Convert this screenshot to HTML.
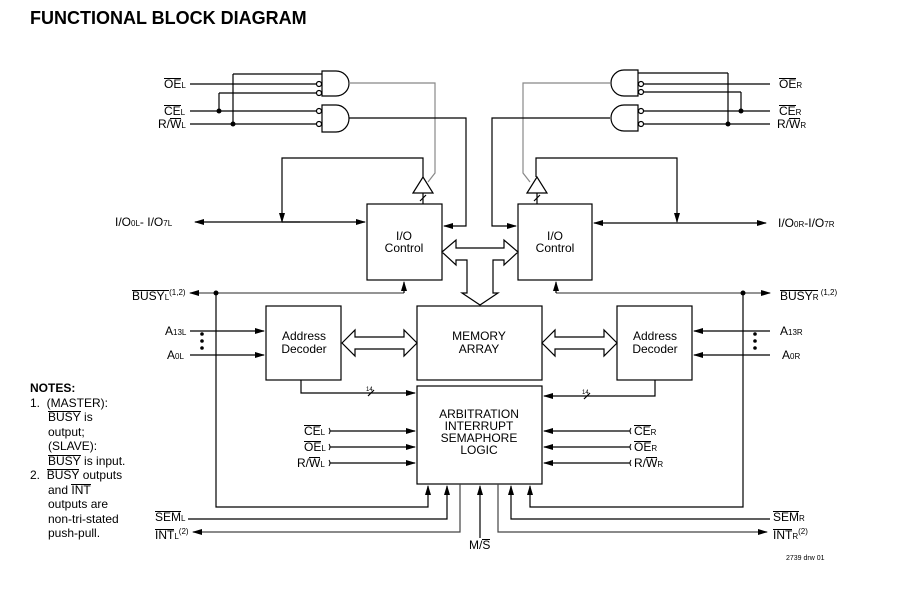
<!DOCTYPE html>
<html><head><meta charset="utf-8"><style>
body{margin:0;background:#fff;width:924px;height:592px;position:relative;overflow:hidden}
svg{display:block;position:absolute;left:0;top:0}
.t{position:absolute;font-family:"Liberation Sans",Arial,sans-serif;font-size:12px;line-height:12px;white-space:nowrap;color:#000}
.o{display:inline-block;border-top:1px solid #000;line-height:10px}
.s{font-size:8px}
.u{font-size:8px;vertical-align:5px}
.c{text-align:center;width:120px}
</style></head><body>
<svg width="924" height="592" viewBox="0 0 924 592" xmlns="http://www.w3.org/2000/svg">
<defs>
<marker id="a" markerWidth="10" markerHeight="6" refX="9" refY="3" orient="auto" markerUnits="userSpaceOnUse"><path d="M0,0 L10,3 L0,6 Z" fill="#000"/></marker>
</defs>
<g stroke="#000" stroke-width="1.2" fill="none">
<path d="M322,71 H336 A13,12.5 0 0 1 336,96 H322 Z"/>
<path d="M322,105 H336 A13,13.5 0 0 1 336,132 H322 Z"/>
<circle cx="319" cy="84" r="2.5"/><circle cx="319" cy="93" r="2.5"/>
<circle cx="319" cy="111" r="2.5"/><circle cx="319" cy="124" r="2.5"/>
<path d="M233,74 H322 M190,84 H316 M219,93 H316 M190,111 H316 M190,124 H316 M219,93 V111 M233,74 V124"/>
<path d="M349,83 H435 V173 L428,182" stroke="#888"/>
<path d="M349,118 H466 V226 H444" marker-end="url(#a)"/>
<path d="M413,193 L423,177 L433,193 Z"/>
<path d="M423,177 V158 H282 V222" marker-end="url(#a)"/>
<path d="M423,193 V204 M420,201 L426,195"/>
<path d="M638,70 H624 A13,13 0 0 0 624,96 H638 Z"/>
<path d="M638,105 H624 A13,13 0 0 0 624,131 H638 Z"/>
<circle cx="641" cy="84" r="2.5"/><circle cx="641" cy="92" r="2.5"/>
<circle cx="641" cy="111" r="2.5"/><circle cx="641" cy="124" r="2.5"/>
<path d="M638,73 H728 M644,84 H770 M644,92 H741 M644,111 H770 M644,124 H770 M741,92 V111 M728,73 V124"/>
<path d="M610,83 H523 V173 L530,182" stroke="#888"/>
<path d="M610,118 H492 V226 H516" marker-end="url(#a)"/>
<path d="M527,193 L537,177 L547,193 Z"/>
<path d="M536,177 V158 H677 V222" marker-end="url(#a)"/>
<path d="M537,193 V204 M534,201 L540,195"/>
<rect x="367" y="204" width="75" height="76"/>
<rect x="518" y="204" width="74" height="76"/>
<rect x="417" y="306" width="125" height="74"/>
<rect x="266" y="306" width="75" height="74"/>
<rect x="617" y="306" width="75" height="74"/>
<rect x="417" y="386" width="125" height="98"/>
<path d="M300,222 H195" marker-end="url(#a)"/>
<path d="M282,222 H365" marker-end="url(#a)"/>
<path d="M677,223 H594" marker-end="url(#a)"/>
<path d="M677,223 H766" marker-end="url(#a)"/>
<path d="M404,293 H190" marker-end="url(#a)" stroke="#555"/>
<path d="M404,293 V282" marker-end="url(#a)"/>
<path d="M556,293 H770" marker-end="url(#a)" stroke="#555"/>
<path d="M556,293 V282" marker-end="url(#a)"/>
<path d="M442,252 L456,240 V248 H504 V240 L518,252 L504,265 V260 H493 V293 H498 L480,305 L462,293 H467 V260 H456 V265 Z" fill="#fff"/>
<path d="M342,343 L355,330 V337 H404 V330 L417,343 L404,356 V349 H355 V356 Z" fill="#fff"/>
<path d="M542,343 L555,330 V337 H604 V330 L617,343 L604,356 V349 H555 V356 Z" fill="#fff"/>
<path d="M190,331 H264" marker-end="url(#a)"/>
<path d="M190,355 H264" marker-end="url(#a)"/>
<path d="M770,331 H694" marker-end="url(#a)"/>
<path d="M770,355 H694" marker-end="url(#a)"/>
<path d="M301,380 V393 H415" marker-end="url(#a)"/>
<path d="M368,396 L374,390"/>
<path d="M655,380 V396 H544" marker-end="url(#a)"/>
<path d="M584,399 L590,393"/>
<path d="M330,431 H415" marker-end="url(#a)"/>
<path d="M330,447 H415" marker-end="url(#a)"/>
<path d="M330,463 H415" marker-end="url(#a)"/>
<path d="M630,431 H544" marker-end="url(#a)"/>
<path d="M630,447 H544" marker-end="url(#a)"/>
<path d="M630,463 H544" marker-end="url(#a)"/>
<path d="M216,293 V507 H428 V486" marker-end="url(#a)"/>
<path d="M188,519 H447 V486" marker-end="url(#a)"/>
<path d="M460,484 V532 H193" marker-end="url(#a)" stroke="#444"/>
<path d="M480,538 V486" marker-end="url(#a)"/>
<path d="M498,484 V532 H767" marker-end="url(#a)" stroke="#444"/>
<path d="M770,519 H511 V486" marker-end="url(#a)"/>
<path d="M743,293 V507 H530 V486" marker-end="url(#a)"/>
<path d="M329,428 q2,3 0,6 M329,444 q2,3 0,6 M329,460 q2,3 0,6 M631,428 q-2,3 0,6 M631,444 q-2,3 0,6 M631,460 q-2,3 0,6" stroke-width="1"/>
</g>
<g fill="#000">
<circle cx="219" cy="111" r="2.5"/><circle cx="233" cy="124" r="2.5"/>
<circle cx="741" cy="111" r="2.5"/><circle cx="728" cy="124" r="2.5"/>
<circle cx="216" cy="293" r="2.5"/><circle cx="743" cy="293" r="2.5"/>
<circle cx="202" cy="334" r="1.8"/><circle cx="202" cy="341" r="1.8"/><circle cx="202" cy="348" r="1.8"/>
<circle cx="755" cy="334" r="1.8"/><circle cx="755" cy="341" r="1.8"/><circle cx="755" cy="348" r="1.8"/>
</g>
<text x="366" y="391" font-size="6" font-family="Liberation Sans">14</text>
<text x="582" y="394" font-size="6" font-family="Liberation Sans">14</text>
<text x="786" y="560" font-size="7" font-family="Liberation Sans">2739 drw 01</text>
</svg>
<div class="t" style="left:30px;top:8px;font-size:18px;line-height:20px;font-weight:bold">FUNCTIONAL BLOCK DIAGRAM</div>
<div class="t" style="left:164px;top:78px"><span class="o">OE</span><span class="s">L</span></div>
<div class="t" style="left:164px;top:105px"><span class="o">CE</span><span class="s">L</span></div>
<div class="t" style="left:158px;top:118px">R/<span class="o">W</span><span class="s">L</span></div>
<div class="t" style="left:779px;top:78px"><span class="o">OE</span><span class="s">R</span></div>
<div class="t" style="left:779px;top:105px"><span class="o">CE</span><span class="s">R</span></div>
<div class="t" style="left:777px;top:118px">R/<span class="o">W</span><span class="s">R</span></div>
<div class="t" style="left:115px;top:216px">I/O<span class="s">0L</span>- I/O<span class="s">7L</span></div>
<div class="t" style="left:778px;top:217px">I/O<span class="s">0R</span>-I/O<span class="s">7R</span></div>
<div class="t" style="left:132px;top:287px"><span class="o">BUSY<span class="s">L</span></span><span class="u">(1,2)</span></div>
<div class="t" style="left:780px;top:287px"><span class="o">BUSY<span class="s">R</span></span><span class="u"> (1,2)</span></div>
<div class="t c" style="left:344px;top:230px">I/O<br>Control</div>
<div class="t c" style="left:495px;top:230px">I/O<br>Control</div>
<div class="t c" style="left:419px;top:330px;line-height:13px">MEMORY<br>ARRAY</div>
<div class="t c" style="left:244px;top:330px;line-height:13px">Address<br>Decoder</div>
<div class="t c" style="left:595px;top:330px;line-height:13px">Address<br>Decoder</div>
<div class="t c" style="left:419px;top:408px;line-height:12px">ARBITRATION<br>INTERRUPT<br>SEMAPHORE<br>LOGIC</div>
<div class="t" style="left:165px;top:325px">A<span class="s">13L</span></div>
<div class="t" style="left:167px;top:349px">A<span class="s">0L</span></div>
<div class="t" style="left:780px;top:325px">A<span class="s">13R</span></div>
<div class="t" style="left:782px;top:349px">A<span class="s">0R</span></div>
<div class="t" style="left:304px;top:425px"><span class="o">CE</span><span class="s">L</span></div>
<div class="t" style="left:304px;top:441px"><span class="o">OE</span><span class="s">L</span></div>
<div class="t" style="left:297px;top:457px">R/<span class="o">W</span><span class="s">L</span></div>
<div class="t" style="left:634px;top:425px"><span class="o">CE</span><span class="s">R</span></div>
<div class="t" style="left:634px;top:441px"><span class="o">OE</span><span class="s">R</span></div>
<div class="t" style="left:634px;top:457px">R/<span class="o">W</span><span class="s">R</span></div>
<div class="t" style="left:155px;top:511px"><span class="o">SEM</span><span class="s">L</span></div>
<div class="t" style="left:155px;top:526px"><span class="o">INT</span><span class="s">L</span><span class="u">(2)</span></div>
<div class="t" style="left:773px;top:511px"><span class="o">SEM</span><span class="s">R</span></div>
<div class="t" style="left:773px;top:526px"><span class="o">INT</span><span class="s">R</span><span class="u">(2)</span></div>
<div class="t" style="left:469px;top:539px">M/<span class="o">S</span></div>
<div class="t" style="left:30px;top:381px;line-height:14.5px">
<b>NOTES:</b><br>
1.&nbsp; (MASTER):<br>
<span style="padding-left:18px"></span><span class="o">BUSY</span> is<br>
<span style="padding-left:18px"></span>output;<br>
<span style="padding-left:18px"></span>(SLAVE):<br>
<span style="padding-left:18px"></span><span class="o">BUSY</span> is input.<br>
2.&nbsp; <span class="o">BUSY</span> outputs<br>
<span style="padding-left:18px"></span>and <span class="o">INT</span><br>
<span style="padding-left:18px"></span>outputs are<br>
<span style="padding-left:18px"></span>non-tri-stated<br>
<span style="padding-left:18px"></span>push-pull.
</div>
</body></html>
